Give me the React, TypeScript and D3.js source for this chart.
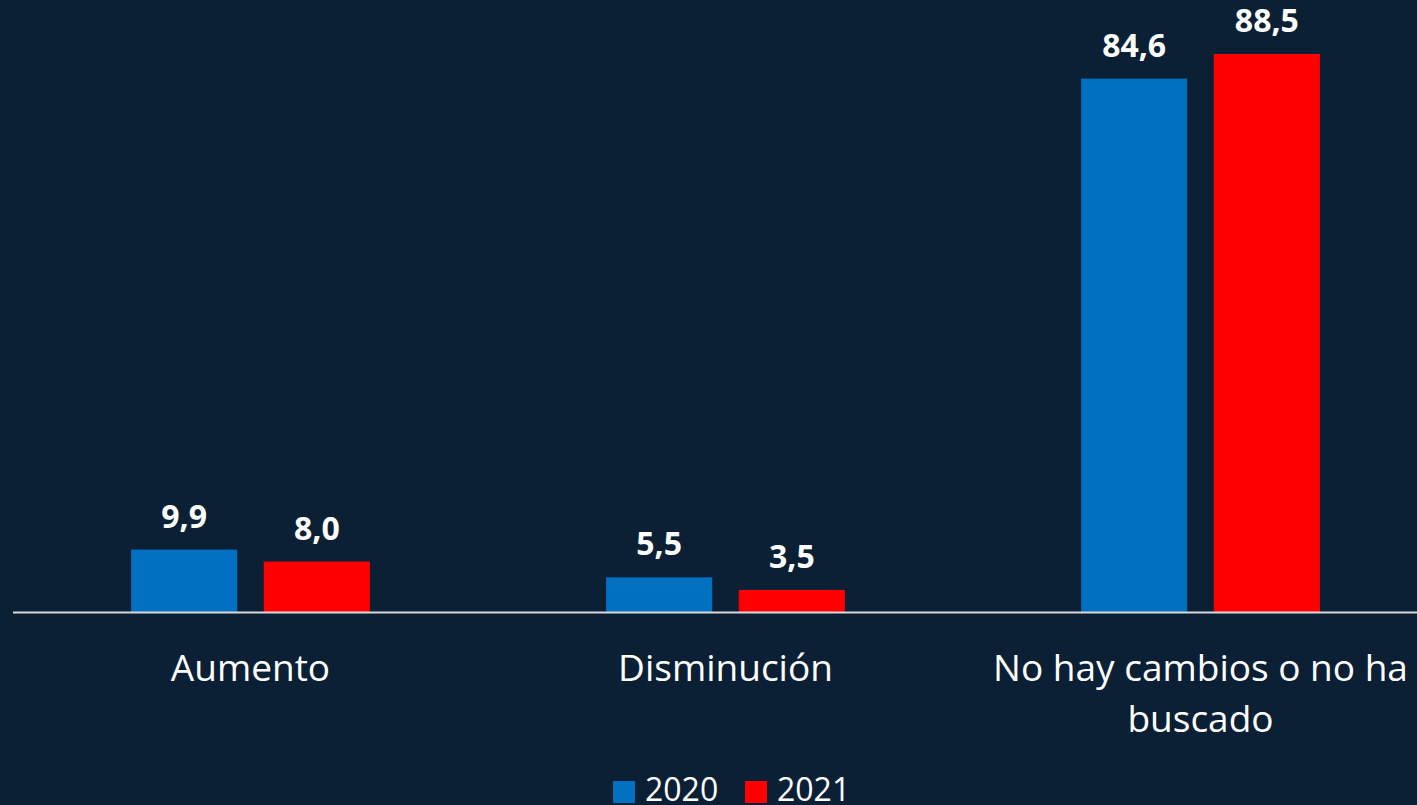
import React from "react";
import * as d3 from "d3";

const categories = ["Aumento", "Disminución", "No hay cambios o no ha buscado"];
const categoryLines = [["Aumento"], ["Disminución"], ["No hay cambios o no ha", "buscado"]];
const series = ["2020", "2021"];
const values2020 = [9.9, 5.5, 84.6];
const values2021 = [8.0, 3.5, 88.5];
const colors = ["#0070C0", "#FF0000"];

const W = 1417;
const H = 805;
const FONT = "'Open Sans', 'Noto Sans', sans-serif";

export default function App() {
  const x0 = d3.scaleBand().domain(categories).range([13, 1438]).paddingInner(0).paddingOuter(0);
  const x1 = d3.scaleBand().domain(series).range([0, x0.bandwidth()]).paddingInner(0.2).paddingOuter(0.89);
  const baseline = 612;
  const y = d3.scaleLinear().domain([0, 88.5]).range([baseline, 54]);
  const data = [values2020, values2021];
  const fmt = (v: number) => v.toFixed(1).replace(".", ",");

  return (
    <svg width={W} height={H} style={{ position: "absolute", left: 0, top: 0, background: "#0B1F35" }}>
      <rect x={0} y={0} width={W} height={H} fill="#0B1F35" />
      {categories.map((c, ci) => (
        <g key={c} transform={`translate(${x0(c)},0)`}>
          {series.map((s, si) => {
            const v = data[si][ci];
            const bx = x1(s)!;
            return (
              <g key={s}>
                <rect x={bx} y={y(v)} width={x1.bandwidth()} height={baseline - y(v)} fill={colors[si]} />
                <text x={bx + x1.bandwidth() / 2} y={y(v) - 22} textAnchor="middle" fill="#fff"
                  fontFamily={FONT} fontWeight={700} fontSize={32}>{fmt(v)}</text>
              </g>
            );
          })}
          {categoryLines[ci].map((line, li) => (
            <text key={li} x={x0.bandwidth() / 2} y={681 + li * 51} textAnchor="middle" fill="#fff"
              fontFamily={FONT} fontSize={37}>{line}</text>
          ))}
        </g>
      ))}
      <line x1={13} x2={W} y1={baseline + 0.5} y2={baseline + 0.5} stroke="#D9D9D9" strokeWidth={2} />
      {series.map((s, si) => (
        <g key={s} transform={`translate(${613 + si * 132},0)`}>
          <rect x={0} y={781} width={22} height={22} fill={colors[si]} />
          <text x={32} y={801} fill="#fff" fontFamily={FONT} fontSize={32}>{s}</text>
        </g>
      ))}
    </svg>
  );
}
